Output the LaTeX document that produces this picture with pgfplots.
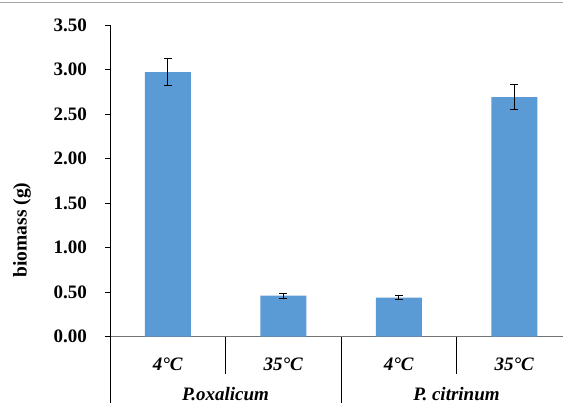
\documentclass[border=0pt]{standalone}
\usepackage{pgfplots}
\pgfplotsset{compat=1.18}
\usepackage{fontspec}
\setmainfont{LiberationSerif}[Extension=.ttf, UprightFont=*-Regular, BoldFont=*-Bold, ItalicFont=*-Italic, BoldItalicFont=*-BoldItalic]
\definecolor{barblue}{HTML}{5B9BD5}
\pgfplotstableread{
x y e
0 2.97 0.15
1 0.46 0.03
2 0.44 0.02
3 2.69 0.14
}\biomass
\begin{document}
\begin{tikzpicture}[x=1pt,y=1pt]
\useasboundingbox (0,0) rectangle (563,403);
\clip (0,0) rectangle (563,403);
\draw[black!35, line width=1.2pt] (0,400.7) -- (563,400.7);
\begin{axis}[
  at={(110pt,66.3pt)}, anchor=south west,
  scale only axis, width=453pt, height=311.7pt,
  xmin=-0.5, xmax=3.422, ymin=0, ymax=3.5,
  axis x line*=bottom, axis y line*=left,
  x axis line style={black!55, line width=1pt, -},
  y axis line style={black, line width=0.8pt, -},
  ybar, bar width=46pt,
  xtick={0,1,2,3},
  xticklabels={\textit{4\textdegree C},\textit{35\textdegree C},\textit{4\textdegree C},\textit{35\textdegree C}},
  xtick style={draw=none},
  ytick={0,0.5,...,3.5},
  ytick style={black, line width=0.8pt},
  tick align=outside, major tick length=5pt,
  yticklabel style={/pgf/number format/fixed, /pgf/number format/fixed zerofill, /pgf/number format/precision=2, /pgf/number format/assume math mode=true},
  ticklabel style={font=\fontsize{19}{22}\selectfont\bfseries},
  xticklabel style={anchor=base, yshift=-29pt},
  yticklabel style={anchor=east, inner sep=0pt, xshift=-18pt},
  ylabel={biomass (g)},
  ylabel style={font=\fontsize{19.5}{22}\selectfont\bfseries, at={(axis description cs:-0.194,0.342)}, anchor=center},
  clip=false,
]
\addplot[fill=barblue, draw=none,
  error bars/.cd, y dir=both, y explicit,
  error mark options={rotate=90, black, mark size=4pt, line width=0.8pt},
  error bar style={black, line width=0.8pt}]
  table[x=x, y=y, y error=e] {\biomass};
\draw[black, line width=0.8pt] (axis cs:0.5,0) -- ++(0pt,-37pt);
\draw[black, line width=0.8pt] (axis cs:2.5,0) -- ++(0pt,-37pt);
\draw[black, line width=0.8pt] (axis cs:1.5,0) -- ++(0pt,-80pt);
\draw[black, line width=0.8pt] (axis cs:-0.5,0) -- ++(0pt,-80pt);
\node[anchor=base, font=\fontsize{19}{22}\selectfont\bfseries\itshape] at ([yshift=-64pt]axis cs:0.5,0) {P.oxalicum};
\node[anchor=base, font=\fontsize{19}{22}\selectfont\bfseries\itshape] at ([yshift=-64pt]axis cs:2.5,0) {P. citrinum};
\end{axis}
\end{tikzpicture}
\end{document}
